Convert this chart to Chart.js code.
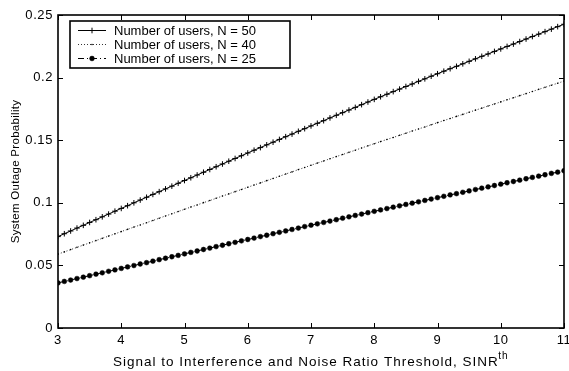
<!DOCTYPE html>
<html>
<head>
<meta charset="utf-8">
<script src="https://cdn.jsdelivr.net/npm/chart.js@4/dist/chart.umd.min.js"></script>
<style>
  html, body { margin: 0; padding: 0; background: #fff; }
  #c { display: block; }
</style>
</head>
<body>
<canvas id="c" width="569" height="371"></canvas>
<script>
// SINR threshold values (x axis)
const sinrThreshold = [
  3.0, 3.1, 3.2, 3.3, 3.4, 3.5, 3.6, 3.7, 3.8, 3.9,
  4.0, 4.1, 4.2, 4.3, 4.4, 4.5, 4.6, 4.7, 4.8, 4.9,
  5.0, 5.1, 5.2, 5.3, 5.4, 5.5, 5.6, 5.7, 5.8, 5.9,
  6.0, 6.1, 6.2, 6.3, 6.4, 6.5, 6.6, 6.7, 6.8, 6.9,
  7.0, 7.1, 7.2, 7.3, 7.4, 7.5, 7.6, 7.7, 7.8, 7.9,
  8.0, 8.1, 8.2, 8.3, 8.4, 8.5, 8.6, 8.7, 8.8, 8.9,
  9.0, 9.1, 9.2, 9.3, 9.4, 9.5, 9.6, 9.7, 9.8, 9.9,
  10.0, 10.1, 10.2, 10.3, 10.4, 10.5, 10.6, 10.7, 10.8, 10.9,
  11.0
];

// System outage probability, N = 50 users
const outageN50 = [
  0.0730, 0.0753, 0.0775, 0.0798, 0.0820, 0.0843, 0.0865, 0.0888, 0.0910, 0.0933,
  0.0955, 0.0977, 0.1000, 0.1022, 0.1044, 0.1067, 0.1089, 0.1111, 0.1133, 0.1156,
  0.1178, 0.1200, 0.1222, 0.1244, 0.1266, 0.1288, 0.1310, 0.1332, 0.1354, 0.1376,
  0.1398, 0.1420, 0.1441, 0.1463, 0.1484, 0.1506, 0.1528, 0.1549, 0.1571, 0.1592,
  0.1614, 0.1635, 0.1656, 0.1678, 0.1699, 0.1720, 0.1741, 0.1762, 0.1784, 0.1805,
  0.1826, 0.1847, 0.1867, 0.1888, 0.1908, 0.1929, 0.1949, 0.1970, 0.1990, 0.2011,
  0.2031, 0.2051, 0.2071, 0.2090, 0.2110, 0.2130, 0.2150, 0.2170, 0.2189, 0.2209,
  0.2229, 0.2249, 0.2268, 0.2288, 0.2308, 0.2328, 0.2347, 0.2367, 0.2387, 0.2407,
  0.2426
];

// System outage probability, N = 40 users
const outageN40 = [
  0.0590, 0.0608, 0.0626, 0.0644, 0.0662, 0.0680, 0.0698, 0.0716, 0.0734, 0.0752,
  0.0770, 0.0788, 0.0806, 0.0823, 0.0841, 0.0859, 0.0877, 0.0895, 0.0912, 0.0930,
  0.0948, 0.0966, 0.0983, 0.1001, 0.1018, 0.1036, 0.1054, 0.1071, 0.1089, 0.1106,
  0.1124, 0.1142, 0.1159, 0.1177, 0.1194, 0.1212, 0.1230, 0.1247, 0.1265, 0.1282,
  0.1300, 0.1317, 0.1334, 0.1352, 0.1369, 0.1386, 0.1403, 0.1420, 0.1438, 0.1455,
  0.1472, 0.1489, 0.1506, 0.1522, 0.1539, 0.1556, 0.1573, 0.1590, 0.1606, 0.1623,
  0.1640, 0.1657, 0.1673, 0.1690, 0.1706, 0.1723, 0.1740, 0.1756, 0.1773, 0.1789,
  0.1806, 0.1823, 0.1839, 0.1856, 0.1872, 0.1889, 0.1906, 0.1922, 0.1939, 0.1955,
  0.1972
];

// System outage probability, N = 25 users
const outageN25 = [
  0.0360, 0.0372, 0.0383, 0.0395, 0.0406, 0.0418, 0.0430, 0.0441, 0.0453, 0.0464,
  0.0476, 0.0488, 0.0499, 0.0511, 0.0522, 0.0534, 0.0546, 0.0557, 0.0569, 0.0580,
  0.0592, 0.0604, 0.0615, 0.0627, 0.0638, 0.0650, 0.0661, 0.0673, 0.0684, 0.0696,
  0.0707, 0.0718, 0.0730, 0.0741, 0.0753, 0.0764, 0.0775, 0.0787, 0.0798, 0.0810,
  0.0821, 0.0832, 0.0843, 0.0854, 0.0865, 0.0877, 0.0888, 0.0899, 0.0910, 0.0921,
  0.0932, 0.0943, 0.0954, 0.0965, 0.0976, 0.0987, 0.0997, 0.1008, 0.1019, 0.1030,
  0.1041, 0.1052, 0.1063, 0.1073, 0.1084, 0.1095, 0.1106, 0.1117, 0.1127, 0.1138,
  0.1149, 0.1160, 0.1170, 0.1181, 0.1192, 0.1203, 0.1213, 0.1224, 0.1235, 0.1245,
  0.1256
];

const seriesLabels = ['Number of users, N = 50', 'Number of users, N = 40', 'Number of users, N = 25'];
const xTickValues = [3, 4, 5, 6, 7, 8, 9, 10, 11];
const yTickValues = [0, 0.05, 0.1, 0.15, 0.2, 0.25];
const xTitle = 'Signal to Interference and Noise Ratio Threshold, SINR';
const xTitleSup = 'th';
const yTitle = 'System Outage Probability';

const FONT = '"Liberation Sans", Arial, Helvetica, sans-serif';

const toPoints = (ys) => ys.map((v, i) => ({ x: sinrThreshold[i], y: v }));

// Slightly open letter spacing for the tick labels drawn by the scales
const spacingPlugin = {
  id: 'tickSpacing',
  beforeDraw(chart) { chart.ctx.letterSpacing = '0.6px'; },
  afterDatasetsDraw(chart) { chart.ctx.letterSpacing = '0px'; }
};

// Box frame, inward ticks on all four sides, axis titles and the in-plot legend
const framePlugin = {
  id: 'matlabFrame',
  afterDraw(chart) {
    const { ctx, chartArea: a, scales } = chart;
    const xs = scales.x, ys = scales.y;
    ctx.save();
    ctx.letterSpacing = '0px';
    ctx.strokeStyle = '#000';
    ctx.lineWidth = 1;
    const seg = (x1, y1, x2, y2) => { ctx.beginPath(); ctx.moveTo(x1, y1); ctx.lineTo(x2, y2); ctx.stroke(); };
    const tl = 5;
    xs.ticks.forEach(t => {
      const px = Math.round(xs.getPixelForValue(t.value)) + 0.5;
      seg(px, a.bottom, px, a.bottom - tl);
      seg(px, a.top, px, a.top + tl);
    });
    ys.ticks.forEach(t => {
      const py = Math.round(ys.getPixelForValue(t.value)) + 0.5;
      seg(a.left, py, a.left + tl, py);
      seg(a.right, py, a.right - tl, py);
    });
    ctx.lineWidth = 1.6;
    ctx.strokeRect(a.left, a.top, a.right - a.left, a.bottom - a.top);

    // x axis title with superscript
    ctx.fillStyle = '#000';
    ctx.textBaseline = 'alphabetic';
    ctx.textAlign = 'left';
    ctx.letterSpacing = '1px';
    ctx.font = '13.5px ' + FONT;
    const wMain = ctx.measureText(xTitle).width;
    ctx.font = '10px ' + FONT;
    const wSup = ctx.measureText(xTitleSup).width;
    const cx = (a.left + a.right) / 2;
    const x0 = cx - (wMain + wSup) / 2;
    ctx.font = '13.5px ' + FONT;
    ctx.fillText(xTitle, x0, 365.5);
    ctx.font = '10px ' + FONT;
    ctx.fillText(xTitleSup, x0 + wMain - 0.5, 358.5);

    // y axis title
    ctx.save();
    ctx.translate(16, (a.top + a.bottom) / 2);
    ctx.rotate(-Math.PI / 2);
    ctx.letterSpacing = '0.3px';
    ctx.font = '11.5px ' + FONT;
    ctx.textAlign = 'center';
    ctx.textBaseline = 'middle';
    ctx.fillText(yTitle, 0, 0);
    ctx.restore();
    ctx.letterSpacing = '0px';

    // legend
    const lx = 70, ly = 21, lw = 220, lh = 47;
    ctx.fillStyle = '#fff';
    ctx.fillRect(lx, ly, lw, lh);
    ctx.lineWidth = 1.6;
    ctx.strokeStyle = '#000';
    ctx.strokeRect(lx, ly, lw, lh);
    const rows = [30.5, 44.5, 58.5];
    chart.data.datasets.forEach((ds, i) => {
      const yy = rows[i];
      ctx.save();
      ctx.strokeStyle = ds.borderColor;
      ctx.lineWidth = ds.borderWidth;
      ctx.setLineDash(ds.borderDash || []);
      seg(78, yy, 106, yy);
      ctx.setLineDash([]);
      ctx.fillStyle = ds.pointBackgroundColor;
      ctx.strokeStyle = ds.pointBorderColor;
      ctx.lineWidth = ds.pointBorderWidth;
      Chart.helpers.drawPoint(ctx, {
        pointStyle: ds.pointStyle, radius: ds.pointRadius, rotation: 0, borderWidth: ds.pointBorderWidth
      }, 92, yy);
      ctx.restore();
      ctx.fillStyle = '#000';
      ctx.font = '13px ' + FONT;
      ctx.textAlign = 'left';
      ctx.textBaseline = 'middle';
      ctx.fillText(ds.label, 114, yy + 0.5);
    });
    ctx.restore();
  }
};

new Chart(document.getElementById('c'), {
  type: 'line',
  data: {
    datasets: [
      {
        label: seriesLabels[0],
        data: toPoints(outageN50),
        borderColor: '#000', borderWidth: 1,
        pointStyle: 'cross', pointRadius: 2.8, pointBorderWidth: 1,
        pointBorderColor: '#000', pointBackgroundColor: '#000'
      },
      {
        label: seriesLabels[1],
        data: toPoints(outageN40),
        borderColor: '#000', borderWidth: 0.8, borderDash: [1, 2],
        pointStyle: 'circle', pointRadius: 0.8, pointBorderWidth: 0,
        pointBorderColor: '#000', pointBackgroundColor: '#000'
      },
      {
        label: seriesLabels[2],
        data: toPoints(outageN25),
        borderColor: '#000', borderWidth: 1, borderDash: [6, 3, 1, 3],
        pointStyle: 'circle', pointRadius: 2.4, pointBorderWidth: 0.5,
        pointBorderColor: '#000', pointBackgroundColor: '#000'
      }
    ]
  },
  options: {
    responsive: false,
    animation: false,
    devicePixelRatio: 1,
    layout: { padding: { left: 0, right: 3, top: 15, bottom: 0 } },
    plugins: { legend: { display: false }, tooltip: { enabled: false } },
    elements: { line: { tension: 0 } },
    scales: {
      x: {
        type: 'linear', min: 3, max: 11,
        afterBuildTicks: (s) => { s.ticks = xTickValues.map(v => ({ value: v })); },
        afterFit: (s) => { s.height = 43; s.paddingLeft = 0; s.paddingRight = 0; },
        grid: { display: false, drawTicks: false },
        border: { display: false },
        ticks: { color: '#000', font: { family: FONT, size: 13 }, padding: 5, maxRotation: 0 }
      },
      y: {
        type: 'linear', min: 0, max: 0.25,
        afterBuildTicks: (s) => { s.ticks = yTickValues.map(v => ({ value: v })); },
        afterFit: (s) => { s.width = 58; s.paddingTop = 0; s.paddingBottom = 0; },
        grid: { display: false, drawTicks: false },
        border: { display: false },
        ticks: {
          color: '#000', font: { family: FONT, size: 13 }, padding: 5,
          callback: (v) => String(parseFloat(Number(v).toFixed(2)))
        }
      }
    }
  },
  plugins: [spacingPlugin, framePlugin]
});
</script>
</body>
</html>
